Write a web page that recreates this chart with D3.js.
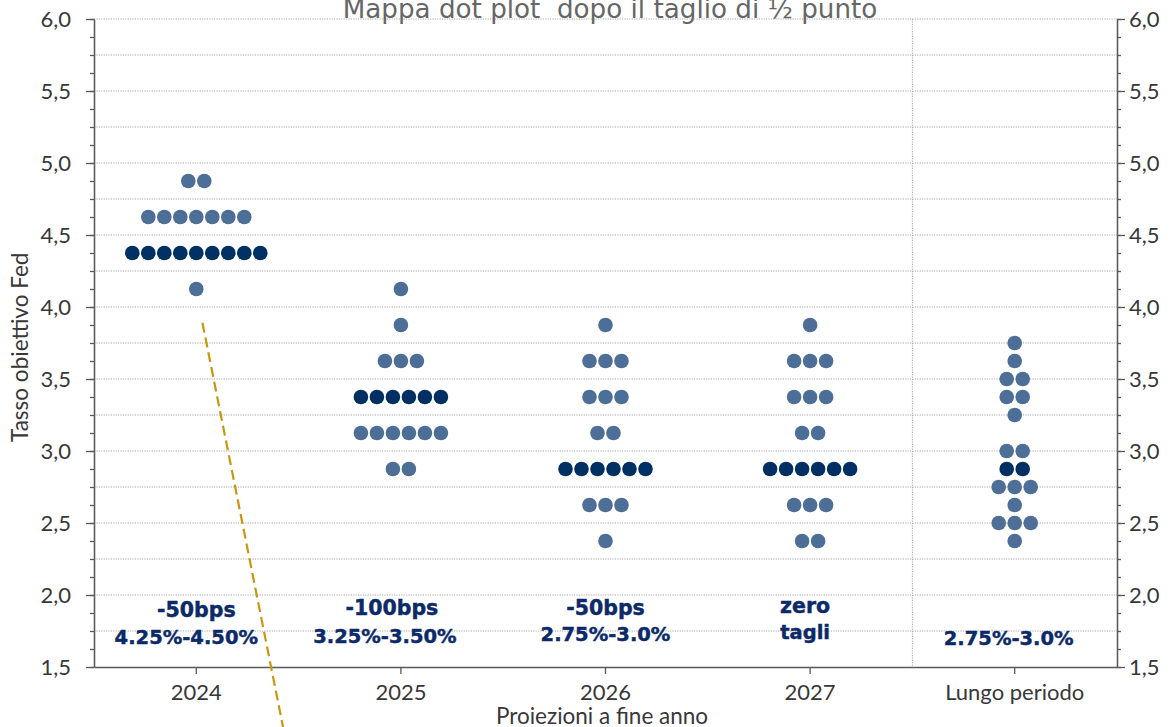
<!DOCTYPE html>
<html><head><meta charset="utf-8">
<script src="https://cdn.jsdelivr.net/npm/d3@7"></script>
<style>body{margin:0;background:#fff} svg{display:block}</style>
</head><body><svg id="chart" width="1171" height="727"></svg>
<script>
// FOMC dot plot: projected fed funds rate, one dot per participant
const categories = ["2024", "2025", "2026", "2027", "Lungo periodo"];
// [rate level, number of participants]
const dots2024 = [[4.875, 2], [4.625, 7], [4.375, 9], [4.125, 1]];
const dots2025 = [[4.125, 1], [3.875, 1], [3.625, 3], [3.375, 6], [3.125, 6], [2.875, 2]];
const dots2026 = [[3.875, 1], [3.625, 3], [3.375, 3], [3.125, 2], [2.875, 6], [2.625, 3], [2.375, 1]];
const dots2027 = [[3.875, 1], [3.625, 3], [3.375, 3], [3.125, 2], [2.875, 6], [2.625, 3], [2.375, 2]];
const dotsLong = [[3.75, 1], [3.625, 1], [3.5, 2], [3.375, 2], [3.25, 1], [3.0, 2], [2.875, 2], [2.75, 3], [2.625, 1], [2.5, 3], [2.375, 1]];
const medians = [4.375, 3.375, 2.875, 2.875, 2.875];
const yTickValues = [1.5, 2.0, 2.5, 3.0, 3.5, 4.0, 4.5, 5.0, 5.5, 6.0];
const annotations = [
  ["-50bps", "4.25%-4.50%"],
  ["-100bps", "3.25%-3.50%"],
  ["-50bps", "2.75%-3.0%"],
  ["zero", "tagli"],
  ["2.75%-3.0%"]
];
const titleText = "Mappa dot plot  dopo il taglio di \u00BD punto";
const yTitle = "Tasso obiettivo Fed";
const xTitle = "Proiezioni a fine anno";

const allDots = [dots2024, dots2025, dots2026, dots2027, dotsLong];

const svg = d3.select("#chart");
const W = 1171, H = 727;
const m = {left: 94, right: 54, top: 19, bottom: 60};

const x = d3.scaleBand().domain(categories).range([m.left, W - m.right]).padding(0);
const y = d3.scaleLinear().domain([1.5, 6]).range([H - m.bottom, m.top]);
const bw = x.bandwidth();
const cx = c => x(c) + bw / 2;

const it = d3.formatLocale({decimal: ",", thousands: ".", grouping: [3], currency: ["", "\u20AC"]});
const fmt = it.format(".1f");

const axisColor = "#5a5a5a";
const gridColor = "#a8a8a8";
const labelFont = "Lato, 'Open Sans', sans-serif";

// dotted horizontal grid every quarter point
const gridVals = d3.range(1.75, 6.0001, 0.25);
svg.append("g").selectAll("line").data(gridVals).join("line")
  .attr("x1", m.left).attr("x2", W - m.right)
  .attr("y1", d => y(d)).attr("y2", d => y(d))
  .attr("stroke", gridColor).attr("stroke-width", 1)
  .attr("stroke-dasharray", "1.2,1.2");

// dotted separator before the long-run column
svg.append("line")
  .attr("x1", x("Lungo periodo")).attr("x2", x("Lungo periodo"))
  .attr("y1", y(6)).attr("y2", y(1.5))
  .attr("stroke", gridColor).attr("stroke-width", 1)
  .attr("stroke-dasharray", "1.2,1.2");

// minor ticks every eighth of a point
const minorVals = d3.range(1.5, 6.0001, 0.125);
function styleAxis(g) {
  g.selectAll("path, line").attr("stroke", axisColor).attr("stroke-width", 1.3);
  g.selectAll("text").attr("fill", "#383838").attr("font-family", labelFont).attr("font-size", 22);
}
svg.append("g").attr("transform", `translate(${m.left},0)`)
  .call(d3.axisLeft(y).tickValues(minorVals).tickSize(4).tickSizeOuter(0).tickFormat(""))
  .call(styleAxis);
svg.append("g").attr("transform", `translate(${m.left},0)`)
  .call(d3.axisLeft(y).tickValues(yTickValues).tickSize(8).tickSizeOuter(0).tickPadding(15).tickFormat(fmt))
  .call(styleAxis);
svg.append("g").attr("transform", `translate(${W - m.right},0)`)
  .call(d3.axisRight(y).tickValues(minorVals).tickSize(4).tickSizeOuter(0).tickFormat(""))
  .call(styleAxis);
svg.append("g").attr("transform", `translate(${W - m.right},0)`)
  .call(d3.axisRight(y).tickValues(yTickValues).tickSize(8).tickSizeOuter(0).tickPadding(4).tickFormat(fmt))
  .call(styleAxis);
svg.append("g").attr("transform", `translate(0,${H - m.bottom})`)
  .call(d3.axisBottom(x).tickSize(7).tickSizeOuter(0).tickPadding(10))
  .call(styleAxis);

// dots
const spacing = 16, r = 7.3;
const dotData = [];
categories.forEach((c, ci) => {
  allDots[ci].forEach(([rate, n]) => {
    for (let i = 0; i < n; i++) {
      dotData.push({c, rate, off: (i - (n - 1) / 2) * spacing, median: rate === medians[ci]});
    }
  });
});
svg.append("g").selectAll("circle").data(dotData).join("circle")
  .attr("cx", d => cx(d.c) + d.off)
  .attr("cy", d => y(d.rate))
  .attr("r", r)
  .attr("fill", d => d.median ? "#003063" : "#4d6f97");

// annotation labels under each column
const labelShift = [[0, -10], [-9, -16], [0, 0], [-5, -5], [-6]];
const labelRates = [[1.9, 1.705], [1.91, 1.715], [1.91, 1.73], [1.925, 1.74], [1.70]];
const ann = svg.append("g")
  .attr("font-family", "'DejaVu Sans', sans-serif").attr("font-weight", "bold")
  .attr("font-size", 19.5).attr("fill", "#0c2a68").attr("text-anchor", "middle")
  .attr("stroke", "#0c2a68").attr("stroke-width", 0.45);
annotations.forEach((lines, ci) => {
  lines.forEach((t, li) => {
    ann.append("text")
      .attr("x", cx(categories[ci]) + labelShift[ci][li])
      .attr("y", y(labelRates[ci][li]))
      .attr("dy", "0.35em")
      .attr("font-size", li === 0 && lines.length > 1 ? 20.5 : 19.5)
      .text(t);
  });
});

// dashed guide line from the 2024 column downwards
const guide = [[0.03, 3.89], [0.424, 1.083]];
svg.append("line")
  .attr("x1", cx("2024") + guide[0][0] * bw).attr("y1", y(guide[0][1]))
  .attr("x2", cx("2024") + guide[1][0] * bw).attr("y2", y(guide[1][1]))
  .attr("stroke", "#c8960f").attr("stroke-width", 2.2)
  .attr("stroke-dasharray", "10,5");

// titles
const title = svg.append("text")
  .attr("x", 610).attr("y", 18)
  .attr("text-anchor", "middle")
  .attr("font-family", "'DejaVu Sans', sans-serif")
  .attr("font-size", 24).attr("fill", "#666")
  .style("white-space", "pre")
  .text(titleText);
const tw = title.node().getComputedTextLength();
title.attr("font-size", 24 * 535 / tw);

svg.append("text")
  .attr("transform", `translate(28,${y(3.72)}) rotate(-90)`)
  .attr("text-anchor", "middle")
  .attr("font-family", labelFont).attr("font-size", 22.5).attr("fill", "#383838")
  .text(yTitle);

svg.append("text")
  .attr("x", 602).attr("y", 724)
  .attr("text-anchor", "middle")
  .attr("font-family", labelFont).attr("font-size", 22.5).attr("fill", "#383838")
  .text(xTitle);
</script>
</body></html>
